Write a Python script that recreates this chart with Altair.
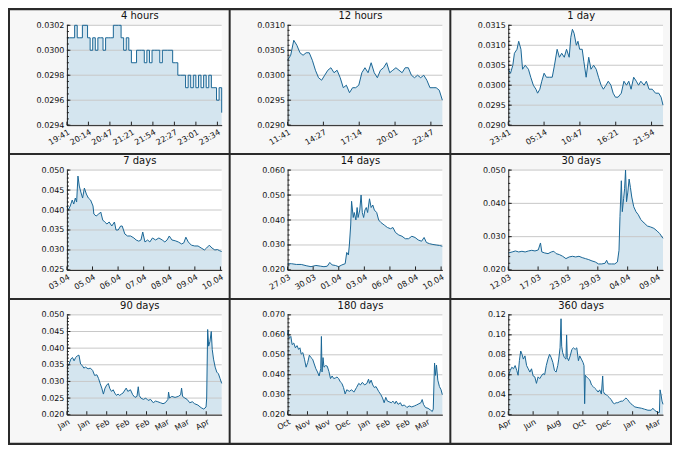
import altair as alt
import numpy as np
import pandas as pd

# ---- series ----
# 4 hours: evenly sampled from 19:41 (values only)
v_4h = [0.0301, 0.0301, 0.0301, 0.0302, 0.0301, 0.0301, 0.0302, 0.0302, 0.0301, 0.0300,
        0.0301, 0.0300, 0.0301, 0.0301, 0.0300, 0.0301, 0.0301, 0.0301, 0.0302, 0.0302,
        0.0302, 0.0301, 0.0300, 0.0301, 0.0300, 0.0299, 0.0299, 0.0300, 0.0300, 0.0300,
        0.0299, 0.0300, 0.0299, 0.0300, 0.0300, 0.0300, 0.0299, 0.0300, 0.0300, 0.0300,
        0.0300, 0.0299, 0.0299, 0.0298, 0.0298, 0.0298, 0.0297, 0.0298, 0.0297, 0.0298,
        0.0297, 0.0298, 0.0297, 0.0298, 0.0297, 0.0298, 0.0297, 0.0297, 0.0296, 0.0297,
        0.0295]

# 12 hours: evenly sampled from 11:41
v_12h = [0.03030, 0.03040, 0.03070, 0.03060, 0.03045, 0.03040, 0.03045, 0.03045, 0.03030, 0.03010,
         0.02995, 0.02990, 0.03000, 0.03010, 0.03015, 0.03005, 0.03010, 0.02995, 0.02975, 0.02980,
         0.02965, 0.02975, 0.02975, 0.02980, 0.03005, 0.03015, 0.03005, 0.03025, 0.03005, 0.02995,
         0.03010, 0.03015, 0.03025, 0.03005, 0.03010, 0.03015, 0.03010, 0.03005, 0.03015, 0.03015,
         0.03000, 0.02995, 0.03000, 0.02995, 0.03000, 0.02990, 0.02975, 0.02975, 0.02975, 0.02970,
         0.02950]

# 1 day: (hours since 23:41, value)
s_1d = [(0, 0.0304), (0.35, 0.0303), (0.71, 0.0305), (0.96, 0.0308), (1.36, 0.0309), (1.62, 0.0311),
        (1.97, 0.0309), (2.22, 0.0304), (2.63, 0.0305), (3.13, 0.0304), (3.49, 0.0302), (3.89, 0.0300),
        (4.29, 0.0299), (4.55, 0.0298), (4.90, 0.0299), (5.20, 0.0301), (5.56, 0.0303), (5.91, 0.0302),
        (6.42, 0.0302), (6.82, 0.0302), (7.17, 0.0305), (7.58, 0.0309), (7.93, 0.0307), (8.29, 0.0308),
        (8.69, 0.0307), (9.04, 0.0309), (9.45, 0.0307), (9.70, 0.0312), (9.95, 0.0314), (10.21, 0.0313),
        (10.56, 0.0310), (10.81, 0.0311), (11.07, 0.0309), (11.47, 0.0309), (11.72, 0.0306), (12.08, 0.0302),
        (12.48, 0.0307), (12.83, 0.0304), (13.24, 0.0305), (13.64, 0.0304), (14.00, 0.0302), (14.40, 0.0300),
        (14.75, 0.0299), (15.16, 0.0300), (15.51, 0.0301), (15.92, 0.0300), (16.27, 0.0298), (16.62, 0.0297),
        (17.03, 0.0297), (17.53, 0.0298), (17.94, 0.0301), (18.34, 0.0300), (18.69, 0.0301), (19.05, 0.0299),
        (19.45, 0.0302), (19.86, 0.0301), (20.21, 0.0300), (20.56, 0.0301), (21.07, 0.0300), (21.42, 0.0301),
        (21.83, 0.0299), (22.33, 0.0299), (22.84, 0.0298), (23.34, 0.0298), (23.70, 0.0297), (24.00, 0.0295)]

# 7 days: (days since start, value)
s_7d = [(0, 0.0410), (0.06, 0.0400), (0.15, 0.0410), (0.24, 0.0425), (0.31, 0.0415), (0.38, 0.0430),
        (0.44, 0.0420), (0.50, 0.0485), (0.56, 0.0460), (0.63, 0.0445), (0.71, 0.0430), (0.79, 0.0455),
        (0.88, 0.0440), (0.97, 0.0430), (1.07, 0.0425), (1.18, 0.0410), (1.22, 0.0390), (1.32, 0.0385),
        (1.44, 0.0390), (1.53, 0.0395), (1.62, 0.0375), (1.71, 0.0370), (1.81, 0.0365), (1.91, 0.0370),
        (2.03, 0.0360), (2.15, 0.0370), (2.22, 0.0350), (2.32, 0.0350), (2.43, 0.0360), (2.50, 0.0360),
        (2.62, 0.0340), (2.74, 0.0335), (2.88, 0.0335), (3.03, 0.0330), (3.13, 0.0325), (3.25, 0.0322),
        (3.35, 0.0325), (3.43, 0.0345), (3.53, 0.0320), (3.65, 0.0325), (3.75, 0.0320), (3.87, 0.0330),
        (4.01, 0.0325), (4.16, 0.0330), (4.31, 0.0325), (4.43, 0.0320), (4.53, 0.0325), (4.63, 0.0335),
        (4.75, 0.0325), (4.90, 0.0323), (5.04, 0.0320), (5.19, 0.0315), (5.29, 0.0318), (5.38, 0.0332),
        (5.49, 0.0320), (5.63, 0.0312), (5.78, 0.0310), (5.93, 0.0310), (6.07, 0.0305), (6.22, 0.0300),
        (6.32, 0.0305), (6.44, 0.0312), (6.56, 0.0305), (6.69, 0.0300), (6.81, 0.0301), (6.91, 0.0298),
        (7.00, 0.0296)]

# 14 days
s_14d = [(0, 0.0225), (0.35, 0.0225), (0.79, 0.0222), (1.24, 0.0222), (1.68, 0.0217), (2.12, 0.0213),
         (2.56, 0.0218), (3.00, 0.0215), (3.29, 0.0213), (3.59, 0.0215), (3.82, 0.0230), (4.03, 0.0220),
         (4.32, 0.0218), (4.62, 0.0213), (4.91, 0.0220), (5.21, 0.0225), (5.35, 0.0270), (5.50, 0.0260),
         (5.59, 0.0300), (5.71, 0.0380), (5.79, 0.0475), (5.94, 0.0410), (6.03, 0.0430), (6.18, 0.0400),
         (6.29, 0.0450), (6.38, 0.0410), (6.53, 0.0440), (6.65, 0.0500), (6.76, 0.0430), (6.88, 0.0410),
         (7.00, 0.0440), (7.12, 0.0450), (7.24, 0.0430), (7.41, 0.0485), (7.56, 0.0450), (7.71, 0.0460),
         (7.85, 0.0440), (8.06, 0.0430), (8.24, 0.0400), (8.44, 0.0390), (8.74, 0.0380), (9.03, 0.0370),
         (9.32, 0.0365), (9.53, 0.0370), (9.76, 0.0350), (10.06, 0.0340), (10.35, 0.0335), (10.65, 0.0325),
         (10.94, 0.0325), (11.24, 0.0335), (11.53, 0.0330), (11.82, 0.0320), (12.12, 0.0315), (12.35, 0.0330),
         (12.56, 0.0310), (12.85, 0.0305), (13.15, 0.0302), (13.44, 0.0300), (13.74, 0.0298), (14.00, 0.0295)]

# 30 days
s_30d = [(0, 0.0251), (0.76, 0.0254), (1.39, 0.0257), (2.02, 0.0254), (2.65, 0.0256), (3.28, 0.0254),
         (3.92, 0.0257), (4.55, 0.0259), (5.18, 0.0257), (5.81, 0.0260), (6.25, 0.0281), (6.51, 0.0254),
         (7.07, 0.0251), (7.71, 0.0249), (8.34, 0.0254), (8.84, 0.0256), (9.28, 0.0249), (9.92, 0.0246),
         (10.55, 0.0241), (11.18, 0.0234), (11.81, 0.0239), (12.44, 0.0241), (13.07, 0.0239), (13.71, 0.0241),
         (14.34, 0.0237), (14.97, 0.0234), (15.60, 0.0231), (16.23, 0.0227), (16.86, 0.0224), (17.49, 0.0218),
         (18.13, 0.0218), (18.76, 0.0220), (19.07, 0.0229), (19.39, 0.0218), (20.02, 0.0218), (20.65, 0.0218),
         (21.16, 0.0224), (21.47, 0.0259), (21.66, 0.0361), (21.92, 0.0468), (22.11, 0.0375), (22.36, 0.0414),
         (22.55, 0.0444), (22.74, 0.0500), (22.93, 0.0405), (23.18, 0.0434), (23.43, 0.0473), (23.68, 0.0448),
         (23.94, 0.0419), (24.32, 0.0390), (24.76, 0.0375), (25.20, 0.0366), (25.71, 0.0351), (26.34, 0.0341),
         (26.97, 0.0332), (27.60, 0.0329), (28.23, 0.0325), (28.86, 0.0317), (29.37, 0.0309), (29.68, 0.0302),
         (30.00, 0.0295)]

# 90 days
s_90d = [(0, 0.0343), (0.95, 0.0348), (2.27, 0.0367), (3.22, 0.0372), (4.17, 0.0362), (5.12, 0.0372),
         (6.06, 0.0377), (7.01, 0.0379), (7.96, 0.0352), (8.91, 0.0348), (9.85, 0.0340), (10.80, 0.0343),
         (12.32, 0.0338), (13.64, 0.0340), (14.97, 0.0333), (16.11, 0.0318), (17.43, 0.0320), (18.38, 0.0309),
         (19.33, 0.0294), (20.27, 0.0280), (21.22, 0.0262), (22.17, 0.0280), (23.12, 0.0289), (24.06, 0.0294),
         (25.01, 0.0278), (25.96, 0.0270), (26.91, 0.0275), (27.85, 0.0265), (28.80, 0.0258), (29.75, 0.0262),
         (30.69, 0.0258), (31.64, 0.0262), (32.59, 0.0265), (34.48, 0.0280), (35.43, 0.0270), (36.95, 0.0275),
         (38.27, 0.0260), (39.60, 0.0252), (40.74, 0.0255), (41.49, 0.0284), (42.06, 0.0258), (43.01, 0.0250),
         (44.53, 0.0246), (45.85, 0.0250), (47.18, 0.0243), (48.69, 0.0246), (50.21, 0.0236), (51.54, 0.0241),
         (52.86, 0.0239), (54.38, 0.0236), (55.89, 0.0233), (57.22, 0.0236), (58.74, 0.0246), (59.12, 0.0268),
         (59.68, 0.0250), (61.01, 0.0255), (62.90, 0.0252), (64.80, 0.0255), (66.13, 0.0260), (66.69, 0.0280),
         (67.26, 0.0255), (68.59, 0.0250), (69.91, 0.0246), (71.43, 0.0236), (72.95, 0.0239), (74.27, 0.0233),
         (76.17, 0.0229), (78.06, 0.0221), (79.58, 0.0217), (80.91, 0.0223), (81.28, 0.0250), (81.85, 0.0456),
         (82.42, 0.0406), (83.18, 0.0420), (83.94, 0.0450), (84.51, 0.0396), (85.27, 0.0367), (86.21, 0.0343),
         (87.16, 0.0328), (88.11, 0.0323), (89.05, 0.0309), (90.00, 0.0294)]

# 180 days
s_180d = [(0, 0.0600), (0.76, 0.0624), (1.89, 0.0583), (3.78, 0.0592), (5.29, 0.0551), (7.18, 0.0559),
          (9.08, 0.0535), (10.97, 0.0546), (12.86, 0.0527), (14.37, 0.0535), (15.88, 0.0503), (17.77, 0.0511),
          (19.66, 0.0478), (21.55, 0.0438), (23.45, 0.0462), (25.34, 0.0498), (27.23, 0.0486), (29.12, 0.0478),
          (31.01, 0.0454), (32.90, 0.0430), (34.79, 0.0414), (36.68, 0.0394), (38.57, 0.0430), (39.33, 0.0592),
          (40.08, 0.0414), (41.22, 0.0486), (42.35, 0.0438), (44.24, 0.0446), (46.13, 0.0443), (48.03, 0.0417),
          (49.92, 0.0381), (51.81, 0.0394), (53.70, 0.0381), (55.59, 0.0384), (57.48, 0.0389), (59.37, 0.0381),
          (61.26, 0.0365), (63.15, 0.0357), (65.04, 0.0336), (66.93, 0.0304), (68.82, 0.0325), (71.85, 0.0317),
          (74.50, 0.0325), (77.14, 0.0313), (80.17, 0.0336), (82.82, 0.0357), (84.71, 0.0349), (86.97, 0.0362),
          (89.62, 0.0349), (92.27, 0.0357), (94.16, 0.0378), (95.29, 0.0357), (97.18, 0.0373), (99.08, 0.0349),
          (100.97, 0.0336), (102.86, 0.0341), (105.88, 0.0317), (108.53, 0.0300), (110.42, 0.0284), (112.31, 0.0260),
          (114.20, 0.0287), (116.09, 0.0268), (117.98, 0.0265), (120.63, 0.0260), (122.52, 0.0268), (124.79, 0.0255),
          (126.30, 0.0268), (128.57, 0.0252), (131.22, 0.0260), (133.11, 0.0244), (135.76, 0.0249), (138.78, 0.0236),
          (141.43, 0.0244), (144.45, 0.0239), (147.48, 0.0244), (150.13, 0.0249), (152.77, 0.0255), (155.04, 0.0260),
          (156.55, 0.0276), (158.07, 0.0252), (160.34, 0.0236), (163.36, 0.0232), (166.39, 0.0223), (168.28, 0.0216),
          (169.41, 0.0228), (170.93, 0.0459), (172.06, 0.0397), (173.19, 0.0449), (174.71, 0.0373), (176.60, 0.0341),
          (178.49, 0.0325), (180.00, 0.0300)]

# 360 days
s_360d = [(0, 0.0562), (2.29, 0.0611), (4.58, 0.0643), (8.39, 0.0676), (12.20, 0.0660), (16.02, 0.0692),
          (19.83, 0.0643), (22.88, 0.0595), (25.93, 0.0741), (28.98, 0.0838), (32.03, 0.0805), (35.08, 0.0757),
          (38.90, 0.0789), (42.71, 0.0692), (46.53, 0.0660), (50.34, 0.0627), (54.15, 0.0660), (57.97, 0.0588),
          (61.78, 0.0579), (65.59, 0.0514), (69.41, 0.0579), (73.22, 0.0562), (77.03, 0.0588), (80.85, 0.0611),
          (84.66, 0.0601), (88.47, 0.0692), (92.29, 0.0757), (96.10, 0.0805), (99.92, 0.0773), (103.73, 0.0724),
          (107.54, 0.0643), (111.36, 0.0627), (115.17, 0.0692), (117.46, 0.0757), (120.51, 0.0870), (122.80, 0.1161),
          (124.32, 0.0886), (126.61, 0.0821), (130.42, 0.0773), (134.24, 0.0757), (135.76, 0.0999), (137.29, 0.0773),
          (140.34, 0.0741), (144.15, 0.0789), (147.97, 0.0854), (151.78, 0.0870), (155.59, 0.0854), (159.41, 0.0870),
          (163.22, 0.0741), (166.27, 0.0789), (170.08, 0.0757), (173.90, 0.0724), (176.19, 0.0692), (177.71, 0.0310),
          (179.24, 0.0595), (182.29, 0.0579), (186.10, 0.0562), (189.92, 0.0546), (193.73, 0.0498), (197.54, 0.0482),
          (201.36, 0.0465), (205.17, 0.0449), (208.98, 0.0427), (212.80, 0.0449), (216.61, 0.0407), (219.66, 0.0588),
          (221.19, 0.0433), (224.24, 0.0407), (228.05, 0.0401), (231.86, 0.0384), (235.68, 0.0368), (239.49, 0.0352),
          (243.31, 0.0320), (247.12, 0.0310), (250.93, 0.0320), (254.75, 0.0320), (258.56, 0.0329), (262.37, 0.0336),
          (266.19, 0.0336), (270.00, 0.0352), (273.81, 0.0368), (277.63, 0.0352), (281.44, 0.0329), (285.25, 0.0310),
          (289.07, 0.0297), (294.41, 0.0278), (302.03, 0.0271), (309.66, 0.0265), (317.29, 0.0255), (324.92, 0.0245),
          (332.54, 0.0245), (336.36, 0.0265), (340.17, 0.0245), (347.80, 0.0223), (351.61, 0.0223), (353.14, 0.0449),
          (355.42, 0.0401), (357.71, 0.0336), (360.00, 0.0304)]

# tick labels
lab_4h = ["19:41", "20:14", "20:47", "21:21", "21:54", "22:27", "23:01", "23:34"]
lab_12h = ["11:41", "14:27", "17:14", "20:01", "22:47"]
lab_1d = ["23:41", "05:14", "10:47", "16:21", "21:54"]
lab_7d = ["03.04", "05.04", "06.04", "07.04", "08.04", "09.04", "10.04"]
lab_14d = ["27.03", "30.03", "01.04", "03.04", "06.04", "08.04", "10.04"]
lab_30d = ["12.03", "17.03", "23.03", "29.03", "04.04", "09.04"]
lab_90d = ["Jan", "Jan", "Feb", "Feb", "Feb", "Mar", "Mar", "Apr"]
lab_180d = ["Oct", "Nov", "Nov", "Dec", "Jan", "Feb", "Feb", "Mar"]
lab_360d = ["Apr", "Jun", "Aug", "Oct", "Dec", "Jan", "Mar"]


def even(vals, span):
    return list(zip(np.linspace(0, span, len(vals)), vals))


panels = [
    dict(title="4 hours", data=even(v_4h, 4), span=4, step=0.5556, labels=lab_4h,
         y=(0.0294, 0.0302, 0.0002, 0.00005), fmt=".4f", interp="step-after"),
    dict(title="12 hours", data=even(v_12h, 12), span=12, step=2.7778, labels=lab_12h,
         y=(0.0290, 0.0310, 0.0005, 0.0001), fmt=".4f", interp="linear"),
    dict(title="1 day", data=s_1d, span=24, step=5.5556, labels=lab_1d,
         y=(0.0290, 0.0315, 0.0005, 0.0001), fmt=".4f", interp="linear"),
    dict(title="7 days", data=s_7d, span=7, step=1.1574, labels=lab_7d,
         y=(0.025, 0.050, 0.005, 0.001), fmt=".3f", interp="linear"),
    dict(title="14 days", data=s_14d, span=14, step=2.3148, labels=lab_14d,
         y=(0.020, 0.060, 0.010, 0.002), fmt=".3f", interp="linear"),
    dict(title="30 days", data=s_30d, span=30, step=5.787, labels=lab_30d,
         y=(0.020, 0.050, 0.010, 0.002), fmt=".3f", interp="linear"),
    dict(title="90 days", data=s_90d, span=90, step=11.574, labels=lab_90d,
         y=(0.020, 0.050, 0.005, 0.001), fmt=".3f", interp="linear"),
    dict(title="180 days", data=s_180d, span=180, step=23.148, labels=lab_180d,
         y=(0.020, 0.070, 0.010, 0.002), fmt=".3f", interp="linear"),
    dict(title="360 days", data=s_360d, span=360, step=57.87, labels=lab_360d,
         y=(0.02, 0.12, 0.02, 0.005), fmt=".2f", interp="linear"),
]

W, H = 155, 100
LEFT, RIGHT, TOP, BOTTOM = 58, 8, 16, 29
INK = "#222222"
EDGE = "#2b2b2b"


def box(x0, x1, y0, y1, color):
    # plain filled rect, no stroke
    return alt.Chart(pd.DataFrame({"a": [0]})).mark_rect(color=color).encode(
        x=alt.value(x0), x2=alt.value(x1), y=alt.value(y0), y2=alt.value(y1))


def panel(p):
    df = pd.DataFrame(p["data"], columns=["t", "v"])
    lo, hi, ystep, ymin_step = p["y"]
    xticks = [k * p["step"] for k in range(len(p["labels"]))]
    expr = "[" + ",".join("'%s'" % s for s in p["labels"]) + "][round(datum.value / %s)]" % p["step"]
    major = [float(v) for v in np.round(np.arange(lo, hi + ystep / 2, ystep), 6)]
    minor = [float(v) for v in np.round(np.arange(lo, hi + ymin_step / 2, ymin_step), 7)]

    x = alt.X("t:Q", title=None,
              scale=alt.Scale(domain=[0, p["span"]], nice=False, zero=False),
              axis=alt.Axis(values=xticks, labelExpr=expr, labelAngle=330, labelAlign="right",
                            labelBaseline="top", labelPadding=3, labelOverlap=False,
                            ticks=False, tickSize=0, grid=False, domainColor=INK, zindex=1))
    y = alt.Y("v:Q", title=None,
              scale=alt.Scale(domain=[lo, hi], nice=False, zero=False),
              axis=alt.Axis(values=major, format=p["fmt"], ticks=False, tickSize=0, labelPadding=3,
                            labelOverlap=False, grid=False, domainColor=INK, zindex=1))

    # cell: dark edge, light inside, white plot area
    cell = [
        box(-LEFT, W + RIGHT, -TOP, H + BOTTOM, EDGE),
        box(-LEFT + 1, W + RIGHT - 1, -TOP + 1, H + BOTTOM - 1, "#f7f7f7"),
        box(0, W, 0, H, "white"),
    ]

    base = alt.Chart(df)
    area = base.mark_area(color="#2a7fb0", fillOpacity=0.2, interpolate=p["interp"]).encode(
        x=x, y=y, y2=alt.datum(lo))
    grid = alt.Chart(pd.DataFrame({"v": major})).mark_rule(color="#c8c8c8").encode(
        y=y, x=alt.value(0), x2=alt.value(W))
    line = base.mark_line(color="#1a6696", strokeWidth=1, interpolate=p["interp"]).encode(x=x, y=y)

    # inward ticks
    xt = alt.Chart(pd.DataFrame({"t": xticks})).mark_rule(color=INK).encode(
        x=x, y=alt.value(H - 3.5), y2=alt.value(H))
    ymaj = alt.Chart(pd.DataFrame({"v": major})).mark_rule(color=INK).encode(
        y=y, x=alt.value(0), x2=alt.value(3.5))
    ymin = alt.Chart(pd.DataFrame({"v": minor})).mark_rule(color=INK).encode(
        y=y, x=alt.value(0), x2=alt.value(2))

    ttl = alt.Chart(pd.DataFrame({"title": [p["title"]]})).mark_text(
        fontSize=10, color="#111111", baseline="middle").encode(
        text="title:N", x=alt.value(73), y=alt.value(-9))

    return alt.layer(*cell, area, grid, line, xt, ymaj, ymin, ttl).properties(width=W, height=H)


# flush bounds: cells are placed by plot area only, spacing = the margins around it
chart = alt.concat(*[panel(p) for p in panels], columns=3,
                   spacing={"row": TOP + BOTTOM, "column": LEFT + RIGHT}).properties(
    padding=0, background=EDGE, bounds="flush"
).configure(
    font="DejaVu Sans"
).configure_view(
    fill="white", stroke="transparent"
).configure_axis(
    labelFont="DejaVu Sans", labelFontSize=8, labelColor="#111111"
)

chart.save("out.html", embed_options={"renderer": "svg", "actions": False})
